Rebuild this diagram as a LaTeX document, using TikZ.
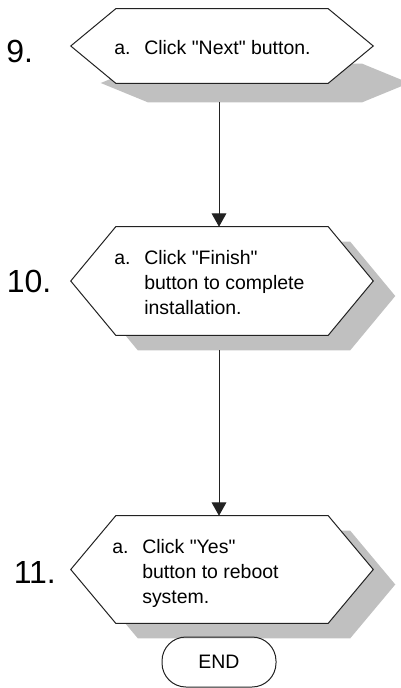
\documentclass[tikz,border=0pt]{standalone}
\usepackage{fontspec}
\setmainfont{Liberation Sans}[Ligatures=TeXOff]
\usetikzlibrary{arrows.meta, calc}
\newdimen\pxu \pxu=0.75pt
\definecolor{hline}{HTML}{222222}
\definecolor{hshade}{HTML}{C0C0C0}
\tikzset{
  hexbox/.style={rectangle, inner sep=0pt, minimum width=212*\pxu},
  shadebox/.style={rectangle, inner sep=0pt, minimum width=212*\pxu},
  hexfill/.style={fill=white, draw=hline, line width=0.75pt, line join=miter},
  shadefill/.style={fill=hshade},
  steptext/.style={inner sep=0pt, anchor=base west,
                   font=\fontsize{14.6pt}{18.75pt}\selectfont},
  steplabel/.style={inner sep=0pt, anchor=base west,
                    font=\fontsize{24pt}{28pt}\selectfont},
  endbox/.style={draw=hline, line width=0.75pt, rounded corners=18pt,
                 minimum width=114*\pxu, minimum height=50*\pxu, inner sep=0pt,
                 font=\fontsize{14.6pt}{18.75pt}\selectfont},
  arr/.style={-{Triangle[width=11pt,length=10pt]}, line width=0.75pt, hline},
}
% hexagon drawn round a box node: #1 node, #2 point depth, #3 path style
\newcommand\hexframe[3]{%
  \path[#3] (#1.north west) -- (#1.north east) -- ([xshift=#2]#1.east)
    -- (#1.south east) -- (#1.south west) -- ([xshift=-#2]#1.west) -- cycle;}

\begin{document}
\begin{tikzpicture}[x=\pxu, y=-\pxu]
  \useasboundingbox (0,0) rectangle (400,688);

  % step 9
  \node[hexbox, minimum height=74*\pxu] (s9) at (222,46) {};
  \node[shadebox, minimum width=214*\pxu, minimum height=38*\pxu] (sh9) at (255,83) {};
  \hexframe{sh9}{47*\pxu}{shadefill}
  \hexframe{s9}{45*\pxu}{hexfill}
  \node[steptext] (t9) at (114,55)
    {\begin{tabular}[t]{@{}p{22.5pt}@{}l@{}}a. & Click "Next" button.\end{tabular}};
  \node[steplabel] (n9) at (6,63) {9.};

  % step 10
  \node[hexbox, minimum height=108*\pxu] (s10) at (222,281) {};
  \node[shadebox, minimum height=108*\pxu] (sh10) at (244,296) {};
  \hexframe{sh10}{45*\pxu}{shadefill}
  \hexframe{s10}{45*\pxu}{hexfill}
  \node[steptext] (t10) at (114,264)
    {\begin{tabular}[t]{@{}p{22.5pt}@{}l@{}}a. & Click "Finish"\\
       & button to complete\\ & installation.\end{tabular}};
  \node[steplabel] (n10) at (6.5,292) {10.};

  % step 11
  \node[hexbox, minimum height=107*\pxu] (s11) at (222,569.5) {};
  \node[shadebox, minimum height=107*\pxu] (sh11) at (244,584.5) {};
  \hexframe{sh11}{45*\pxu}{shadefill}
  \hexframe{s11}{45*\pxu}{hexfill}
  \node[steptext] (t11) at (112,553)
    {\begin{tabular}[t]{@{}p{22.5pt}@{}l@{}}a. & Click "Yes"\\
       & button to reboot\\ & system.\end{tabular}};
  \node[steplabel] (n11) at (13.5,583) {11.};

  \node[endbox] (fin) at (219,662) {END};

  \draw[arr] (sh9.south -| fin) -- (s10.north -| fin);
  \draw[arr] (sh10.south -| fin) -- (s11.north -| fin);
\end{tikzpicture}
\end{document}
